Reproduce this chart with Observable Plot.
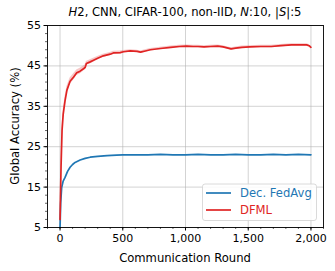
<!DOCTYPE html>
<html><head><meta charset="utf-8">
<script src="https://cdn.jsdelivr.net/npm/d3@7"></script>
<script src="https://cdn.jsdelivr.net/npm/@observablehq/plot@0.6"></script>
<style>body{margin:0;background:#fff}</style>
</head><body><div id="chart"></div>
<script>
const seriesNames = ["Dec. FedAvg", "DFML"];
const seriesColors = ["#1f77b4", "#e02424"];
const xTicks = [0, 500, 1000, 1500, 2000];
const yTicks = [5, 15, 25, 35, 45, 55];

const dfmlRounds = [0,8,16,25,40,55,80,107,133,160,187,200,210,240,267,300,345,400,425,480,505,560,615,642,680,720,800,883,950,1009,1060,1100,1148,1200,1257,1300,1340,1364,1400,1450,1511,1600,1685,1760,1846,1920,1966,1985,2000];
const dfmlAcc =    [7,20,29,33,36.4,39,41.2,42.2,43.3,43.7,44.3,44.6,45.6,46.0,46.4,46.9,47.5,47.9,48.2,48.3,48.5,48.7,48.6,48.4,48.7,49.0,49.3,49.6,49.8,49.9,49.8,49.8,49.7,49.8,49.9,49.7,49.4,49.2,49.4,49.6,49.7,49.8,49.8,50.0,50.2,50.2,50.2,50.0,49.6];
const dfmlStd =    [0.5,1.2,1.2,1.0,1.0,0.9,0.8,0.8,0.7,0.7,0.6,0.6,0.5,0.5,0.5,0.4,0.4,0.4,0.4,0.4,0.3,0.3,0.3,0.3,0.3,0.3,0.3,0.3,0.3,0.3,0.3,0.3,0.3,0.3,0.3,0.3,0.3,0.3,0.3,0.3,0.3,0.3,0.3,0.3,0.3,0.3,0.3,0.3,0.3];

const fedRounds = [0,5,13,25,40,60,80,100,120,160,200,240,300,375,450,500,600,700,800,900,1000,1100,1200,1300,1400,1500,1600,1700,1800,1900,2000];
const fedAcc =    [5.0,11,14.9,16.5,17.4,18.9,19.9,20.6,21.1,21.7,22.1,22.4,22.6,22.8,22.9,23.0,23.0,23.0,23.1,23.0,23.0,23.1,23.0,23.0,23.1,23.0,23.0,23.1,23.0,23.1,23.0];

const fed = fedRounds.map((r,i)=>({round:r, acc:fedAcc[i], series:seriesNames[0]}));
const dfml = dfmlRounds.map((r,i)=>({round:r, acc:dfmlAcc[i], lo:dfmlAcc[i]-dfmlStd[i], hi:dfmlAcc[i]+dfmlStd[i], series:seriesNames[1]}));

const W = 335, H = 271;
const FONT = "DejaVu Sans";
const chart = Plot.plot({
  width: W, height: H,
  marginLeft: 47, marginRight: 12, marginTop: 25, marginBottom: 44,
  style: {fontFamily: FONT, fontSize: "11px", color: "#000", background: "#fff"},
  x: {domain: [-100, 2100], label: null},
  y: {domain: [5, 55], label: null},
  color: {domain: seriesNames, range: seriesColors},
  marks: [
    Plot.gridX(xTicks, {stroke: "#b0b0b0", strokeOpacity: 0.7, strokeWidth: 0.8}),
    Plot.gridY(yTicks, {stroke: "#b0b0b0", strokeOpacity: 0.7, strokeWidth: 0.8}),
    Plot.areaY(dfml, {x: "round", y1: "lo", y2: "hi", fill: seriesColors[1], fillOpacity: 0.25}),
    Plot.line(fed, {x: "round", y: "acc", stroke: seriesColors[0], strokeWidth: 1.7}),
    Plot.line(dfml, {x: "round", y: "acc", stroke: seriesColors[1], strokeWidth: 1.7}),
    Plot.axisX({ticks: d3.range(-100, 2101, 100), tickSize: 2, tickFormat: () => "", label: null, strokeWidth: 0.6}),
    Plot.axisY({ticks: d3.range(5, 56, 2), tickSize: 2, tickFormat: () => "", label: null, strokeWidth: 0.6}),
    Plot.axisX({ticks: xTicks, tickSize: 3.5, tickPadding: 3, label: null, fontSize: 11}),
    Plot.axisY({ticks: yTicks, tickSize: 3.5, tickPadding: 3, label: null, fontSize: 11}),
    Plot.frame({stroke: "#000", strokeWidth: 0.9})
  ]
});
document.getElementById("chart").appendChild(chart);

const svg = d3.select(chart);
function txt(sel) {
  return sel.attr("font-family", FONT).attr("fill", "#000").style("text-anchor", "middle");
}
// title
const t = txt(svg.append("text")).attr("x", 185).attr("y", 16).attr("font-size", 11.6);
t.append("tspan").attr("font-style", "italic").text("H");
t.append("tspan").text("2, CNN, CIFAR-100, non-IID, ");
t.append("tspan").attr("font-style", "italic").text("N");
t.append("tspan").text(":10, |");
t.append("tspan").attr("font-style", "italic").text("S");
t.append("tspan").text("|:5");
// axis labels
txt(svg.append("text")).attr("x", 185).attr("y", 262).attr("font-size", 11.6).text("Communication Round");
txt(svg.append("text")).attr("transform", "translate(14.5,126) rotate(-90)")
  .attr("dominant-baseline", "central").attr("font-size", 11.6).text("Global Accuracy (%)");
// legend
const lg = svg.append("g");
lg.append("rect").attr("x", 202.5).attr("y", 184).attr("width", 114).attr("height", 36.5)
  .attr("rx", 2.5).attr("fill", "#fff").attr("fill-opacity", 0.85).attr("stroke", "#d0d0d0").attr("stroke-width", 0.8);
seriesNames.forEach((name, i) => {
  const y = 193 + i * 17;
  lg.append("line").attr("x1", 206).attr("x2", 231).attr("y1", y).attr("y2", y)
    .attr("stroke", seriesColors[i]).attr("stroke-width", 1.7);
  lg.append("text").attr("x", 240).attr("y", y).attr("dominant-baseline", "central")
    .attr("font-family", FONT).attr("font-size", 11.6).attr("fill", seriesColors[i])
    .style("text-anchor", "start").text(name);
});
</script>
</body></html>
